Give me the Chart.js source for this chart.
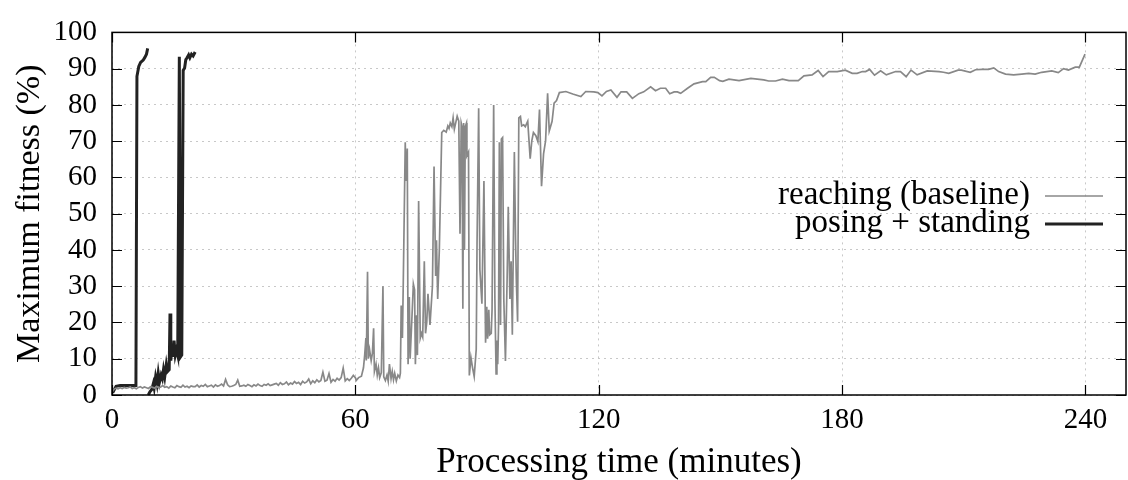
<!DOCTYPE html>
<html><head><meta charset="utf-8">
<script src="https://cdn.jsdelivr.net/npm/chart.js@4.4.1/dist/chart.umd.min.js"></script>
<style>html,body{margin:0;padding:0;background:#fff}#wrap{width:1128px;height:480px}</style>
</head><body><div id="wrap"><canvas id="c" width="1128" height="480"></canvas></div>
<script>
const xTickValues=[0,60,120,180,240];
const yTickValues=[0,10,20,30,40,50,60,70,80,90,100];
const seriesLabels=['reaching (baseline)','posing + standing'];
const xTitle='Processing time (minutes)';
const yTitle='Maximum fitness (%)';

// reaching (baseline): time in minutes
const reachTime=[
0,0.5,1,1.5,2,2.5,3,3.5,4,4.5,5,5.5,6,6.5,7,7.5,8,8.5,9,9.5,10,
10.5,11,11.5,12,12.5,13,13.5,14,14.5,15,15.5,16,16.5,17,17.5,18,18.5,19,19.5,20,
20.5,21,21.5,22,22.5,23,23.5,24,24.5,25,25.5,26,26.5,27,27.5,28,28.5,29,29.5,30,
30.5,31,31.5,32,32.5,33,33.5,34,34.5,35,35.5,36,36.5,37,37.5,38,38.5,39,39.5,40,
40.5,41,41.5,42,42.5,43,43.5,44,44.5,45,45.5,46,46.5,47,47.5,48,48.5,49,49.5,50,
50.5,51,51.5,52,52.5,53,53.5,54,54.5,55,55.5,56,56.5,57,57.5,58,58.5,59,59.5,60,
60.2,60.8,61.5,62.0,62.3,62.6,62.7,63.0,63.2,63.5,63.9,64.2,64.5,64.7,65.1,65.4,65.7,66.0,66.4,66.8,
67.0,67.4,67.8,68.1,68.4,68.8,69.1,69.4,69.7,70.1,70.5,70.9,71.1,71.3,71.6,71.8,72.3,72.5,72.8,73.0,
73.3,73.5,73.8,74.3,74.6,74.8,75.1,75.3,75.6,76.0,76.3,76.6,77.0,77.3,77.6,77.9,78.4,78.7,79.0,79.4,
79.8,80.0,80.3,80.7,81.0,81.3,81.8,82.4,82.8,83.1,83.4,83.8,84.1,
84.4,85.1,85.5,85.8,86.1,86.3,86.5,86.7,86.9,87.1,87.4,87.5,87.9,88.1,88.5,88.9,89.3,89.8,90.0,90.4,
90.7,91.2,91.7,92.1,92.4,92.6,92.9,93.1,93.5,93.7,94.1,94.4,94.7,94.9,95.1,95.3,95.5,95.8,96.0,96.3,
96.6,97.0,97.4,97.7,98.1,98.4,98.7,99.2,99.5,99.7,100.0,100.3,100.7,101.0,101.5,101.9,102.5,103.1,103.5,103.9,
104.5,105.0,105.4,105.9,106.4,106.9,107.4,107.8,108.5,109.0,
109.6,110.3,111.9,113.6,115.6,116.8,118.8,119.8,120.8,121.9,123.0,124.5,125.5,126.9,128.3,129.9,131.1,132.8,134.0,135.2,
136.5,137.5,138.6,139.4,140.2,141.9,143.5,145.6,146.4,147.6,148.5,149.8,150.6,152.1,154.6,157.5,160.7,161.9,163.6,165.3,
166.9,169.2,170.6,172.6,174.1,175.3,176.7,178.8,180.8,182.5,183.7,185.0,185.8,186.8,188.0,189.5,190.9,193.2,194.4,195.8,
197.0,198.5,201.0,203.9,205.0,206.3,208.6,209.4,211.6,212.9,214.5,216.1,217.4,218.6,220.3,222.3,224.3,226.0,227.6,229.2,
231.7,233.3,234.6,235.8,237.5,238.5,239.9
];
// reaching (baseline): maximum fitness in %
const reachFitness=[
0.8,1.6,1.9,1.7,2.0,1.8,2.1,1.9,2.0,2.2,1.8,2.0,1.7,2.1,2.3,1.9,2.2,2.0,1.8,2.3,2.1,
1.9,2.4,2.0,2.2,2.6,2.1,2.3,1.9,2.5,2.2,2.0,2.6,2.3,2.1,2.7,2.2,2.4,2.0,2.5,2.3,
2.3,2.8,2.2,2.6,2.4,2.9,2.3,2.5,2.7,2.2,2.8,2.4,2.6,3.0,2.5,4.3,2.8,2.3,2.4,2.6,
2.9,4.1,2.4,2.5,2.7,2.4,2.9,2.6,2.3,2.8,2.5,3.0,2.6,2.4,2.9,2.7,3.1,2.6,2.8,3.0,
3.2,2.7,3.4,2.9,3.1,3.6,2.8,3.3,3.0,3.7,3.2,3.5,2.9,3.8,3.3,3.6,4.4,3.1,3.9,3.4,
4.2,3.6,4.0,6.3,3.8,4.1,5.9,3.5,4.3,3.8,4.6,4.1,4.8,7.4,3.9,4.5,4.0,4.6,5.4,4.8,
4.0,4.8,5.2,7.5,11,15.7,9.5,34,10,12.5,9.5,11.5,18.4,6.5,8.5,5.5,7.5,4.8,6.2,30,
5.0,4.0,5.5,3.8,8.5,4.5,6.5,4.2,6.0,3.9,5.5,4.8,6.0,24.7,15.7,30,69.7,59,68,8.5,
27,10,17.5,30.6,29,8.5,22,11,53.5,15.7,17,16,36.9,17,20,27.9,19.3,24.7,30,63,
32.8,42.7,26.5,40,56.2,72.4,73,72.5,74.2,73.5,75,74,76.4,
73.3,76.9,75.5,44.5,75,74,23.8,75,40,74,75,66,67,5.4,10.3,7.5,5.1,12.6,41.8,79.1,
34.6,25.2,59,14.4,24.3,15.5,23.5,16.6,17,23.4,80,26.5,5.8,15,8.5,19,69.7,19.3,70.6,71,
26.5,9.4,31,51.9,26.5,36.9,16.6,67,42.7,31,20.2,76.4,76.8,74.2,74.5,74,75.5,65.2,70.1,72.4,
71.5,69.9,78.7,57.6,66.5,70.1,83.2,72.8,75.5,80.5,
81.2,83.4,83.7,83.0,82.3,83.7,83.6,83.4,82.5,83.7,84.1,82.1,83.6,83.6,81.8,83.1,83.6,85.0,83.9,84.6,
84.6,83.1,83.6,83.6,83.2,84.6,85.8,86.4,86.4,87.6,87.6,86.7,86.5,87.1,86.7,87.3,86.9,86.6,86.6,87.1,
86.7,86.7,88.0,88.3,89.5,87.8,89.2,89.2,89.6,88.7,88.7,89.2,89.2,89.8,88.2,89.4,88.3,89.2,89.2,87.8,
89.6,88.3,89.4,89.2,89.0,88.7,89.6,89.6,89.0,89.7,89.8,89.8,90.2,89.2,88.5,88.3,88.5,88.7,88.5,89.0,
89.4,88.9,90.0,89.6,90.4,90.4,94.0
];
// posing + standing (null = break between the two runs)
const poseTime=[
0.16,1.0,2.0,3.6,5.9,6.15,6.6,7.05,7.7,8.1,8.5,8.8,
8.85,
8.95,9.35,9.8,10.2,10.4,10.75,11.1,11.4,11.7,12.1,12.4,12.7,13.0,13.4,13.7,14.1,14.3,14.5,14.8,15.0,
15.3,15.6,15.9,16.2,16.6,16.9,17.2,17.55,17.9,18.2,18.5,18.9,19.2,19.6,20.0,20.5
];
const poseFitness=[
0.6,2.4,2.6,2.6,2.6,87.9,90.6,91.7,92.4,93.1,94.0,95.6,
null,
0,0.9,1.5,3.2,2.0,5.0,3.0,6.0,3.5,5.5,4.5,7.0,5.0,8.5,6.5,7.0,22.5,9.5,14.0,10.5,
15.0,11.0,12.5,11.0,93.3,10.5,11.0,89.5,90.2,92.5,93.0,93.8,93.0,94.0,93.5,94.6
];

const FONT='"Liberation Serif","Times New Roman",serif';
const seriesColors=['#888888','#222222'];
const seriesWidths=[1.7,3];

function pts(t,v){return t.map((x,i)=>({x:x,y:v[i]}));}

const framePlugin={
  id:'frame',
  afterDatasetsDraw(chart){
    const ctx=chart.ctx, a=chart.chartArea, xs=chart.scales.x, ys=chart.scales.y;
    ctx.save();
    ctx.strokeStyle='#000'; ctx.lineWidth=1.2;
    const L=10;
    ctx.beginPath();
    xTickValues.forEach(v=>{const p=Math.round(xs.getPixelForValue(v))+0.5;
      ctx.moveTo(p,a.bottom);ctx.lineTo(p,a.bottom-L);ctx.moveTo(p,a.top);ctx.lineTo(p,a.top+L);});
    yTickValues.forEach(v=>{const p=Math.round(ys.getPixelForValue(v))+0.5;
      ctx.moveTo(a.left,p);ctx.lineTo(a.left+L,p);ctx.moveTo(a.right,p);ctx.lineTo(a.right-L,p);});
    ctx.stroke();
    ctx.lineWidth=1.5;
    ctx.strokeRect(a.left,a.top,a.right-a.left,a.bottom-a.top);
    // legend
    ctx.font='33px '+FONT; ctx.fillStyle='#000'; ctx.textAlign='right'; ctx.textBaseline='middle';
    const lx=1030, ly=[195,223];
    chart.data.datasets.forEach((ds,i)=>{
      ctx.fillText(ds.label,lx,ly[i]);
      ctx.strokeStyle=ds.borderColor; ctx.lineWidth=ds.borderWidth;
      ctx.beginPath();ctx.moveTo(lx+15,ly[i]+1);ctx.lineTo(lx+73,ly[i]+1);ctx.stroke();
    });
    ctx.restore();
  }
};

new Chart(document.getElementById('c'),{
  type:'line',
  data:{datasets:[
    {label:seriesLabels[0],data:pts(reachTime,reachFitness),borderColor:seriesColors[0],borderWidth:seriesWidths[0],pointRadius:0,tension:0,spanGaps:false},
    {label:seriesLabels[1],data:pts(poseTime,poseFitness),borderColor:seriesColors[1],borderWidth:seriesWidths[1],pointRadius:0,tension:0,spanGaps:false}
  ]},
  options:{
    responsive:false,animation:false,devicePixelRatio:1,
    layout:{padding:{left:0,right:2,top:24,bottom:0}},
    plugins:{legend:{display:false},tooltip:{enabled:false}},
    scales:{
      x:{type:'linear',min:0,max:250,
        afterBuildTicks:s=>{s.ticks=xTickValues.map(v=>({value:v}));},
        afterFit:s=>{s.height=85;},
        ticks:{font:{family:FONT,size:29},color:'#000',padding:8,maxRotation:0,autoSkip:false},
        grid:{color:'#c8c8c8',lineWidth:1,drawTicks:false},
        border:{display:false,dash:[2,4]},
        title:{display:true,text:xTitle,font:{family:FONT,size:35,lineHeight:1},color:'#000',padding:{top:0,bottom:0}}
      },
      y:{min:0,max:100,
        afterBuildTicks:s=>{s.ticks=yTickValues.map(v=>({value:v}));},
        afterFit:s=>{s.width=112;},
        ticks:{font:{family:FONT,size:29},color:'#000',padding:15,autoSkip:false},
        grid:{color:'#c8c8c8',lineWidth:1,drawTicks:false},
        border:{display:false,dash:[2,4]},
        title:{display:true,text:yTitle,font:{family:FONT,size:34,lineHeight:1},color:'#000',padding:{top:13,bottom:0}}
      }
    }
  },
  plugins:[framePlugin]
});
</script>
</body></html>
